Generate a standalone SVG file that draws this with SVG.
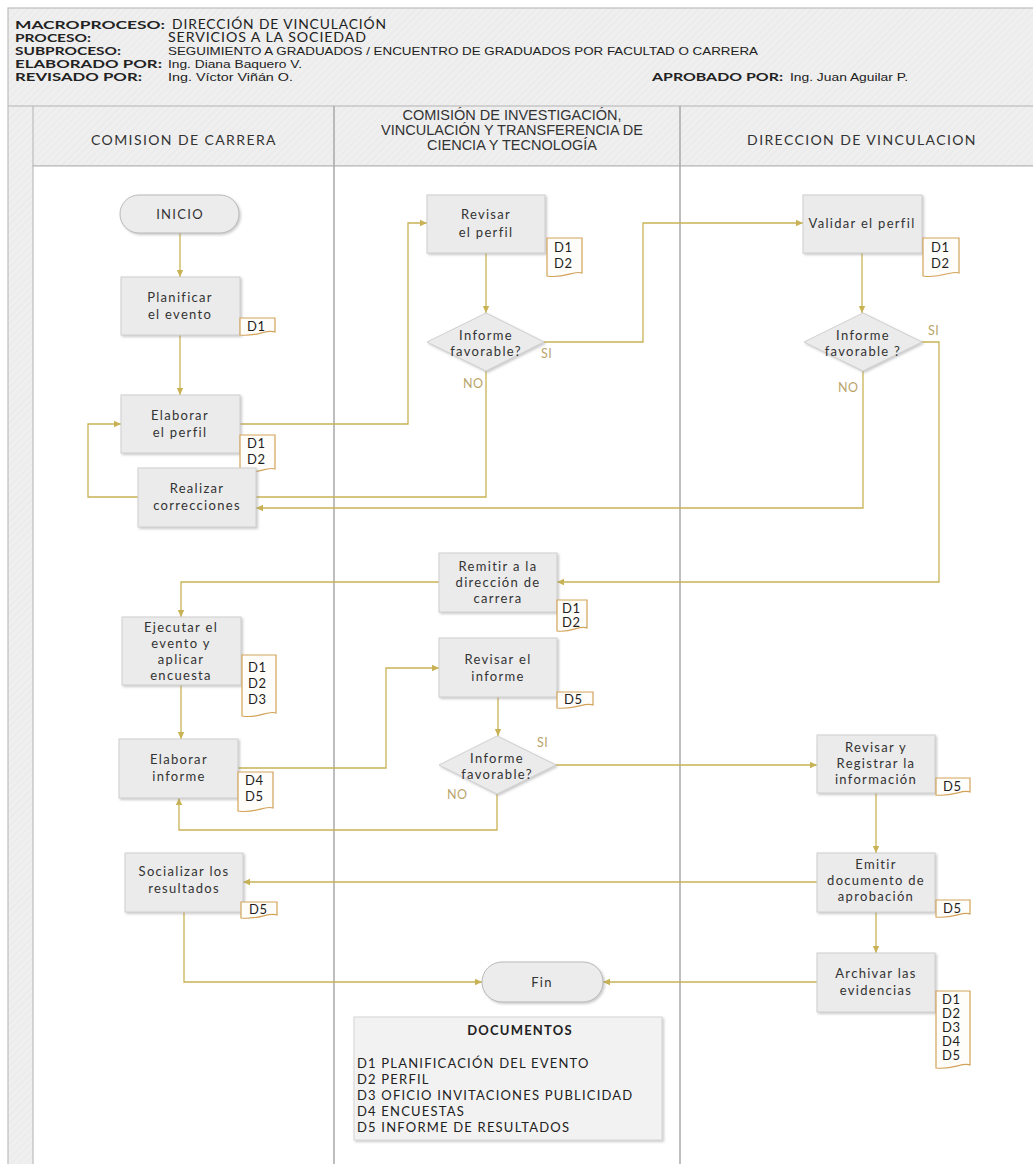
<svg xmlns="http://www.w3.org/2000/svg" width="1033" height="1164" viewBox="0 0 1033 1164">
  <defs>
    <pattern id="hatch" width="5" height="5" patternUnits="userSpaceOnUse" patternTransform="rotate(45)">
      <rect width="5" height="5" fill="#efefef"/>
      <line x1="0" y1="0" x2="0" y2="5" stroke="#e7e7e7" stroke-width="1.5"/>
    </pattern>
    <filter id="shadow" x="-10%" y="-10%" width="130%" height="130%">
      <feDropShadow dx="1.5" dy="1.5" stdDeviation="1" flood-color="#8a8a8a" flood-opacity="0.45"/>
    </filter>
    <marker id="arrow" markerUnits="userSpaceOnUse" markerWidth="8" markerHeight="8" refX="7" refY="4" orient="auto">
      <path d="M0,0.8 L7,4 L0,7.2 z" fill="#c9b255"/>
    </marker>
    <style>
      .lane-title { font-family: Lato, "Open Sans", sans-serif; font-size: 14px; fill: #333; letter-spacing: 1.4px; text-anchor: middle; }
      .lane-title2 { font-family: "Liberation Sans", Arial, sans-serif; font-size: 14.5px; fill: #333; text-anchor: middle; }
      .hdr-label { font-family: Lato, "Open Sans", sans-serif; font-size: 12px; font-weight: bold; fill: #222; }
      .hdr-value { font-family: Lato, "Open Sans", sans-serif; font-size: 12.5px; fill: #222; letter-spacing: 0.8px; }
      .hdr-arial { font-family: "Liberation Sans", Arial, sans-serif; font-size: 11.5px; fill: #222; }
      .box { fill: #ebebeb; stroke: #cfcfcf; stroke-width: 1; filter: url(#shadow); }
      .term { fill: #ececec; stroke: #b9b9b9; stroke-width: 1; filter: url(#shadow); }
      .txt { font-family: Lato, "Open Sans", sans-serif; font-size: 13px; fill: #333; letter-spacing: 1.3px; text-anchor: middle; }
      .doc { fill: #fffdf9; stroke: #d2a35a; stroke-width: 1.2; }
      .doc-txt { font-family: Lato, "Open Sans", sans-serif; font-size: 13px; fill: #1e1e1e; letter-spacing: 0.6px; }
      .conn { fill: none; stroke: #c9b255; stroke-width: 1.3; }
      .lbl { font-family: Lato, "Open Sans", sans-serif; font-size: 12.5px; fill: #b9a46a; letter-spacing: 0.5px; }
      .legend { fill: #f2f2f2; stroke: #d6d6d6; filter: url(#shadow); }
      .legend-txt { font-family: Lato, "Open Sans", sans-serif; font-size: 13px; fill: #222; letter-spacing: 1.2px; }
    </style>
  </defs>

  <!-- page background and frame -->
  <rect x="0" y="0" width="1033" height="1164" fill="#ffffff"/>
  <rect x="8" y="8" width="1035" height="1170" fill="url(#hatch)" stroke="#bdbdbd" stroke-width="1.2"/>

  <!-- header block -->
  <g id="header">
    <text class="hdr-label" x="15" y="29" textLength="150" lengthAdjust="spacingAndGlyphs">MACROPROCESO:</text>
    <text class="hdr-label" x="15" y="42" textLength="76" lengthAdjust="spacingAndGlyphs">PROCESO:</text>
    <text class="hdr-label" x="15" y="55" textLength="106" lengthAdjust="spacingAndGlyphs">SUBPROCESO:</text>
    <text class="hdr-label" x="15" y="68" textLength="147" lengthAdjust="spacingAndGlyphs">ELABORADO POR:</text>
    <text class="hdr-label" x="15" y="81" textLength="127" lengthAdjust="spacingAndGlyphs">REVISADO POR:</text>
    <text class="hdr-value" x="172" y="29" textLength="215" lengthAdjust="spacingAndGlyphs">DIRECCIÓN DE VINCULACIÓN</text>
    <text class="hdr-value" x="168" y="42" textLength="199" lengthAdjust="spacingAndGlyphs">SERVICIOS A LA SOCIEDAD</text>
    <text class="hdr-arial" x="168" y="55" textLength="590" lengthAdjust="spacingAndGlyphs">SEGUIMIENTO A GRADUADOS / ENCUENTRO DE GRADUADOS POR FACULTAD O CARRERA</text>
    <text class="hdr-arial" x="168" y="68" textLength="134" lengthAdjust="spacingAndGlyphs">Ing. Diana Baquero V.</text>
    <text class="hdr-arial" x="168" y="81" textLength="125" lengthAdjust="spacingAndGlyphs">Ing. Víctor Viñán O.</text>
    <text class="hdr-label" x="652" y="81" textLength="131" lengthAdjust="spacingAndGlyphs">APROBADO POR:</text>
    <text class="hdr-arial" x="790" y="81" textLength="118" lengthAdjust="spacingAndGlyphs">Ing. Juan Aguilar P.</text>
  </g>

  <!-- swimlanes -->
  <g id="lanes">
    <rect x="33" y="106" width="1010" height="60" fill="url(#hatch)" stroke="#bdbdbd" stroke-width="1.2"/>
    <rect x="33" y="166" width="1010" height="1010" fill="#ffffff" stroke="#bdbdbd" stroke-width="1.2"/>
    <line x1="8" y1="106" x2="33" y2="106" stroke="#bdbdbd" stroke-width="1.2"/>
    <line x1="334" y1="106" x2="334" y2="1164" stroke="#a9a9a9" stroke-width="1.5"/>
    <line x1="680" y1="106" x2="680" y2="1164" stroke="#a9a9a9" stroke-width="1.5"/>
    <text class="lane-title" x="184" y="145">COMISION DE CARRERA</text>
    <text class="lane-title2" x="512" y="120">COMISIÓN DE INVESTIGACIÓN,</text>
    <text class="lane-title2" x="512" y="135">VINCULACIÓN Y TRANSFERENCIA DE</text>
    <text class="lane-title2" x="512" y="150">CIENCIA Y TECNOLOGÍA</text>
    <text class="lane-title" x="862" y="145">DIRECCION DE VINCULACION</text>
  </g>

  <!-- connectors -->
  <g id="connectors">
    <path class="conn" d="M180,233 V277" marker-end="url(#arrow)"/>
    <path class="conn" d="M180,335 V395" marker-end="url(#arrow)"/>
    <path class="conn" d="M240,424 H408 V223 H427" marker-end="url(#arrow)"/>
    <path class="conn" d="M486,253 V313" marker-end="url(#arrow)"/>
    <path class="conn" d="M544,342 H643 V223 H803" marker-end="url(#arrow)"/>
    <path class="conn" d="M862,253 V313" marker-end="url(#arrow)"/>
    <path class="conn" d="M486,371 V497 H256"/>
    <path class="conn" d="M863,371 V508 H256" marker-end="url(#arrow)"/>
    <path class="conn" d="M138,497 H88 V424 H121" marker-end="url(#arrow)"/>
    <path class="conn" d="M922,342 H939 V582 H557" marker-end="url(#arrow)"/>
    <path class="conn" d="M439,582 H181 V617" marker-end="url(#arrow)"/>
    <path class="conn" d="M181,685 V739" marker-end="url(#arrow)"/>
    <path class="conn" d="M238,768 H386 V668 H439" marker-end="url(#arrow)"/>
    <path class="conn" d="M498,697 V736" marker-end="url(#arrow)"/>
    <path class="conn" d="M556,765 H817" marker-end="url(#arrow)"/>
    <path class="conn" d="M497,794 V830 H179 V798" marker-end="url(#arrow)"/>
    <path class="conn" d="M876,793 V853" marker-end="url(#arrow)"/>
    <path class="conn" d="M876,912 V953" marker-end="url(#arrow)"/>
    <path class="conn" d="M817,882 H243" marker-end="url(#arrow)"/>
    <path class="conn" d="M184,912 V982 H482" marker-end="url(#arrow)"/>
    <path class="conn" d="M817,982 H603" marker-end="url(#arrow)"/>
    <text class="lbl" x="541" y="358">SI</text>
    <text class="lbl" x="463" y="388">NO</text>
    <text class="lbl" x="928" y="335">SI</text>
    <text class="lbl" x="838" y="392">NO</text>
    <text class="lbl" x="537" y="747">SI</text>
    <text class="lbl" x="447" y="799">NO</text>
  </g>

  <!-- comision de carrera -->
  <g id="n-inicio">
    <rect class="term" x="120" y="195" width="119" height="38" rx="19"/>
    <text class="txt" x="180" y="219">INICIO</text>
  </g>
  <g id="n-planificar">
    <rect class="box" x="121" y="277" width="119" height="58"/>
    <text class="txt" x="180" y="302">Planificar</text>
    <text class="txt" x="180" y="319">el evento</text>
    <path class="doc" d="M240,318 H275 V332 C266,329 258,337 240,335 Z"/>
    <text class="doc-txt" x="247" y="331">D1</text>
  </g>
  <g id="n-elaborar-perfil">
    <rect class="box" x="121" y="395" width="119" height="58"/>
    <text class="txt" x="180" y="420">Elaborar</text>
    <text class="txt" x="180" y="437">el perfil</text>
    <path class="doc" d="M240,435 H275 V469 C266,466 258,475 240,472 Z"/>
    <text class="doc-txt" x="247" y="448">D1</text>
    <text class="doc-txt" x="247" y="464">D2</text>
  </g>
  <g id="n-realizar">
    <rect class="box" x="138" y="468" width="118" height="59"/>
    <text class="txt" x="197" y="493">Realizar</text>
    <text class="txt" x="197" y="510">correcciones</text>
  </g>
  <g id="n-ejecutar">
    <rect class="box" x="122" y="617" width="119" height="68"/>
    <text class="txt" x="181" y="632">Ejecutar el</text>
    <text class="txt" x="181" y="648">evento y</text>
    <text class="txt" x="181" y="664">aplicar</text>
    <text class="txt" x="181" y="680">encuesta</text>
    <path class="doc" d="M242,655 H276 V713 C267,710 259,719 242,716 Z"/>
    <text class="doc-txt" x="248" y="672">D1</text>
    <text class="doc-txt" x="248" y="688">D2</text>
    <text class="doc-txt" x="248" y="704">D3</text>
  </g>
  <g id="n-elaborar-informe">
    <rect class="box" x="119" y="739" width="119" height="59"/>
    <text class="txt" x="179" y="764">Elaborar</text>
    <text class="txt" x="179" y="781">informe</text>
    <path class="doc" d="M238,772 H273 V808 C264,805 256,814 238,811 Z"/>
    <text class="doc-txt" x="245" y="785">D4</text>
    <text class="doc-txt" x="245" y="801">D5</text>
  </g>
  <g id="n-socializar">
    <rect class="box" x="125" y="853" width="118" height="59"/>
    <text class="txt" x="184" y="876">Socializar los</text>
    <text class="txt" x="184" y="893">resultados</text>
    <path class="doc" d="M241,902 H277 V915 C268,912 260,920 241,918 Z"/>
    <text class="doc-txt" x="249" y="914">D5</text>
  </g>

  <!-- comision de investigacion -->
  <g id="n-revisar-perfil">
    <rect class="box" x="427" y="195" width="118" height="58"/>
    <text class="txt" x="486" y="219">Revisar</text>
    <text class="txt" x="486" y="237">el perfil</text>
    <path class="doc" d="M547,238 H582 V273 C573,270 565,279 547,276 Z"/>
    <text class="doc-txt" x="554" y="252">D1</text>
    <text class="doc-txt" x="554" y="268">D2</text>
  </g>
  <g id="n-dec1">
    <polygon class="box" points="486,313 544,342 486,371 427,342"/>
    <text class="txt" x="486" y="340">Informe</text>
    <text class="txt" x="486" y="356">favorable?</text>
  </g>
  <g id="n-remitir">
    <rect class="box" x="439" y="553" width="118" height="59"/>
    <text class="txt" x="498" y="571">Remitir a la</text>
    <text class="txt" x="498" y="587">dirección de</text>
    <text class="txt" x="498" y="603">carrera</text>
    <path class="doc" d="M557,600 H587 V628 C579,625 572,633 557,631 Z"/>
    <text class="doc-txt" x="562" y="613">D1</text>
    <text class="doc-txt" x="562" y="627">D2</text>
  </g>
  <g id="n-revisar-informe">
    <rect class="box" x="439" y="638" width="118" height="59"/>
    <text class="txt" x="498" y="664">Revisar el</text>
    <text class="txt" x="498" y="681">informe</text>
    <path class="doc" d="M557,692 H593 V705 C584,702 576,710 557,708 Z"/>
    <text class="doc-txt" x="564" y="704">D5</text>
  </g>
  <g id="n-dec3">
    <polygon class="box" points="497,736 556,765 497,794 439,765"/>
    <text class="txt" x="497" y="763">Informe</text>
    <text class="txt" x="497" y="779">favorable?</text>
  </g>
  <g id="n-fin">
    <rect class="term" x="482" y="962" width="121" height="40" rx="20"/>
    <text class="txt" x="542" y="987">Fin</text>
  </g>
  <g id="documentos">
    <rect class="legend" x="354" y="1017" width="308" height="123"/>
    <text class="legend-txt" x="520" y="1035" font-weight="bold" text-anchor="middle">DOCUMENTOS</text>
    <text class="legend-txt" x="357" y="1068">D1 PLANIFICACIÓN DEL EVENTO</text>
    <text class="legend-txt" x="357" y="1084">D2 PERFIL</text>
    <text class="legend-txt" x="357" y="1100">D3 OFICIO INVITACIONES PUBLICIDAD</text>
    <text class="legend-txt" x="357" y="1116">D4 ENCUESTAS</text>
    <text class="legend-txt" x="357" y="1132">D5 INFORME DE RESULTADOS</text>
  </g>

  <!-- direccion de vinculacion -->
  <g id="n-validar">
    <rect class="box" x="803" y="195" width="119" height="58"/>
    <text class="txt" x="862" y="228">Validar el perfil</text>
    <path class="doc" d="M923,238 H959 V273 C950,270 942,279 923,276 Z"/>
    <text class="doc-txt" x="931" y="252">D1</text>
    <text class="doc-txt" x="931" y="268">D2</text>
  </g>
  <g id="n-dec2">
    <polygon class="box" points="863,313 922,342 863,371 804,342"/>
    <text class="txt" x="863" y="340">Informe</text>
    <text class="txt" x="863" y="356">favorable ?</text>
  </g>
  <g id="n-registrar">
    <rect class="box" x="817" y="735" width="118" height="58"/>
    <text class="txt" x="876" y="752">Revisar y</text>
    <text class="txt" x="876" y="768">Registrar la</text>
    <text class="txt" x="876" y="784">información</text>
    <path class="doc" d="M936,778 H970 V792 C962,789 954,797 936,795 Z"/>
    <text class="doc-txt" x="943" y="791">D5</text>
  </g>
  <g id="n-emitir">
    <rect class="box" x="817" y="853" width="118" height="59"/>
    <text class="txt" x="876" y="869">Emitir</text>
    <text class="txt" x="876" y="885">documento de</text>
    <text class="txt" x="876" y="901">aprobación</text>
    <path class="doc" d="M936,900 H970 V914 C962,911 954,919 936,917 Z"/>
    <text class="doc-txt" x="943" y="913">D5</text>
  </g>
  <g id="n-archivar">
    <rect class="box" x="817" y="953" width="118" height="59"/>
    <text class="txt" x="876" y="978">Archivar las</text>
    <text class="txt" x="876" y="995">evidencias</text>
    <path class="doc" d="M936,991 H970 V1065 C962,1062 954,1070 936,1068 Z"/>
    <text class="doc-txt" x="942" y="1004">D1</text>
    <text class="doc-txt" x="942" y="1018">D2</text>
    <text class="doc-txt" x="942" y="1032">D3</text>
    <text class="doc-txt" x="942" y="1046">D4</text>
    <text class="doc-txt" x="942" y="1060">D5</text>
  </g>
</svg>
